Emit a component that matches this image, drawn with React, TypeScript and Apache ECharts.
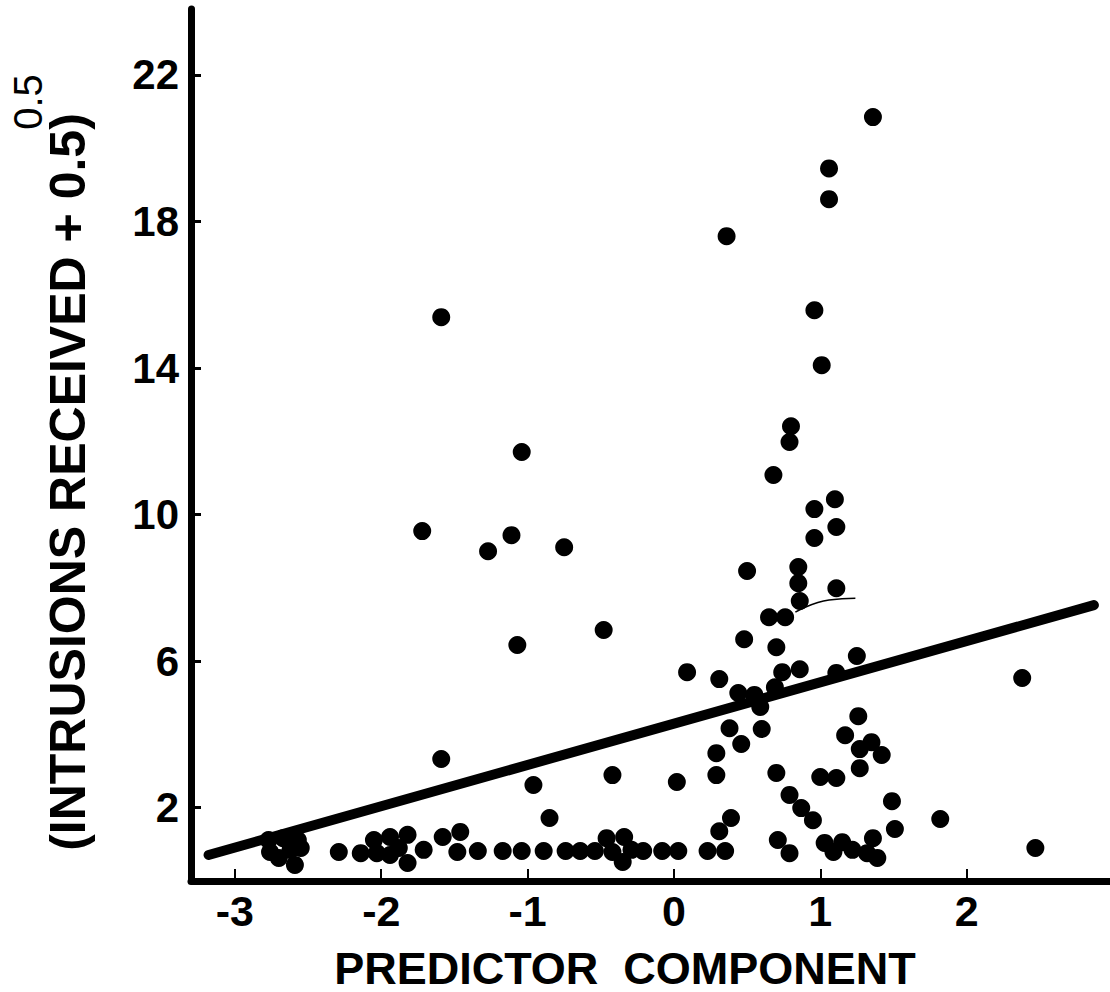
import React, { useEffect, useRef } from "react";
import * as echarts from "echarts";

const xTicks = [-3, -2, -1, 0, 1, 2];
const yTicks = [2, 6, 10, 14, 18, 22];
const xTitle = "PREDICTOR  COMPONENT";
const yTitle = "(INTRUSIONS RECEIVED + 0.5)";
const yTitleExp = "0.5";

const predictor = [
  1.36, 1.06, 1.06, 0.36, 0.96, 1.01, -1.59, -1.04, -1.72, -1.11, -1.27, -0.75, -0.48, -1.07,
  0.8, 0.79, 0.68, 1.1, 0.96, 1.11, 0.96, 0.5, 0.85, 0.85, 1.11, 0.86, 0.65, 0.76, 0.48, 0.7,
  1.25, 0.09, 0.31, 0.74, 0.86, 1.11, 0.44, 0.55, 0.69, 0.59, 0.38, 0.6, 0.46, 0.29, 1.26, 1.17,
  1.35, 1.27, 1.42, 2.38, -1.59, -0.96, -0.42, 0.02, -0.85, 0.29, 0.39, 0.31, 0.7, 1.0, 1.11,
  1.27, 0.79, 0.87, 0.95, 1.49, 1.51, 1.82, 2.47, 0.71, 0.79, 1.03, 1.09, 1.15, 1.22, 1.36, 1.39,
  1.32, -1.34, -1.17, -1.04, -0.89, -0.74, -0.64, -0.54, -0.46, -0.34, -0.35, -0.21, -0.08, 0.03,
  0.23, 0.35, -0.42, -0.29, -2.77, -2.67, -2.57, -2.76, -2.62, -2.55, -2.7, -2.59, -2.29, -2.14,
  -2.05, -1.94, -1.82, -2.03, -1.94, -1.82, -1.71, -1.58, -1.46, -1.48, -1.88,
];
const intrusions = [
  20.85, 19.45, 18.61, 17.6, 15.58, 14.08, 15.39, 11.71, 9.55, 9.44, 9.0, 9.11, 6.85, 6.44,
  12.41, 11.98, 11.08, 10.42, 10.15, 9.66, 9.36, 8.46, 8.57, 8.13, 7.99, 7.64, 7.2, 7.2, 6.6, 6.38,
  6.14, 5.7, 5.51, 5.7, 5.78, 5.68, 5.13, 5.08, 5.29, 4.75, 4.17, 4.15, 3.74, 3.49, 4.5, 3.98,
  3.79, 3.6, 3.44, 5.54, 3.33, 2.62, 2.89, 2.7, 1.72, 2.89, 1.72, 1.36, 2.95, 2.84, 2.81,
  3.08, 2.35, 1.99, 1.66, 2.18, 1.42, 1.69, 0.9, 1.12, 0.76, 1.04, 0.79, 1.06, 0.85, 1.17, 0.63,
  0.76, 0.82, 0.82, 0.82, 0.82, 0.82, 0.82, 0.82, 1.17, 1.2, 0.52, 0.82, 0.82, 0.82,
  0.82, 0.82, 0.79, 0.85, 1.12, 1.17, 1.12, 0.79, 0.85, 0.9, 0.63, 0.44, 0.79, 0.76,
  1.12, 1.2, 1.26, 0.76, 0.71, 0.49, 0.85, 1.2, 1.34, 0.79, 0.9,
];
const fitX = [-3.18, 2.87];
const fitY = [0.71, 7.53];
const strayX = [0.83, 1.06, 1.24];
const strayY = [7.34, 7.67, 7.72];

const FONT = "Liberation Sans, Arial, Helvetica, sans-serif";

export default function App() {
  const ref = useRef<HTMLDivElement>(null);
  useEffect(() => {
    if (!ref.current) return;
    const chart = echarts.init(ref.current, null, { renderer: "svg" });
    const pts = predictor.map((x, i) => [x, intrusions[i]]);
    chart.setOption({
      animation: false,
      backgroundColor: "#fff",
      grid: { left: 191, right: 0, top: 9, bottom: 111 },
      xAxis: {
        type: "value",
        min: -3.3,
        max: 2.98,
        axisLine: { show: true, onZero: false, lineStyle: { color: "#000", width: 7 } },
        axisTick: { show: true, inside: true, length: 12, customValues: xTicks, lineStyle: { color: "#000", width: 2 } },
        axisLabel: { customValues: xTicks, fontSize: 43, fontWeight: "bold", color: "#000", fontFamily: FONT, margin: 8 },
        splitLine: { show: false },
      },
      yAxis: {
        type: "value",
        min: 0,
        max: 23.8,
        axisLine: { show: true, onZero: false, lineStyle: { color: "#000", width: 7, cap: "round" } },
        axisTick: { show: true, inside: true, length: 10, customValues: yTicks, lineStyle: { color: "#000", width: 3 } },
        axisLabel: { customValues: yTicks, fontSize: 42, fontWeight: "bold", color: "#000", fontFamily: FONT, margin: 12 },
        splitLine: { show: false },
      },
      series: [
        {
          type: "line",
          data: fitX.map((x, i) => [x, fitY[i]]),
          symbol: "none",
          lineStyle: { color: "#000", width: 10, cap: "round" },
          z: 2,
        },
        {
          type: "line",
          data: strayX.map((x, i) => [x, strayY[i]]),
          symbol: "none",
          smooth: true,
          lineStyle: { color: "#000", width: 1.5 },
          z: 2,
        },
        {
          type: "scatter",
          data: pts,
          symbol: "circle",
          symbolSize: 18,
          itemStyle: { color: "#000", opacity: 1 },
          z: 3,
        },
      ],
      graphic: [
        {
          type: "text",
          x: 625,
          y: 968,
          style: { text: xTitle, fontSize: 45, fontWeight: "bold", fontFamily: FONT, fill: "#000", align: "center", verticalAlign: "middle" },
        },
        {
          type: "text",
          x: 68,
          y: 482,
          rotation: Math.PI / 2,
          style: { text: yTitle, fontSize: 50, fontWeight: "bold", fontFamily: FONT, fill: "#000", align: "center", verticalAlign: "middle" },
        },
        {
          type: "text",
          x: 28,
          y: 102,
          rotation: Math.PI / 2,
          style: { text: yTitleExp, fontSize: 40, fontWeight: "normal", fontFamily: FONT, fill: "#000", align: "center", verticalAlign: "middle" },
        },
      ],
    });
    return () => chart.dispose();
  }, []);
  return <div ref={ref} style={{ position: "absolute", left: 0, top: 0, width: 1110, height: 992 }} />;
}
